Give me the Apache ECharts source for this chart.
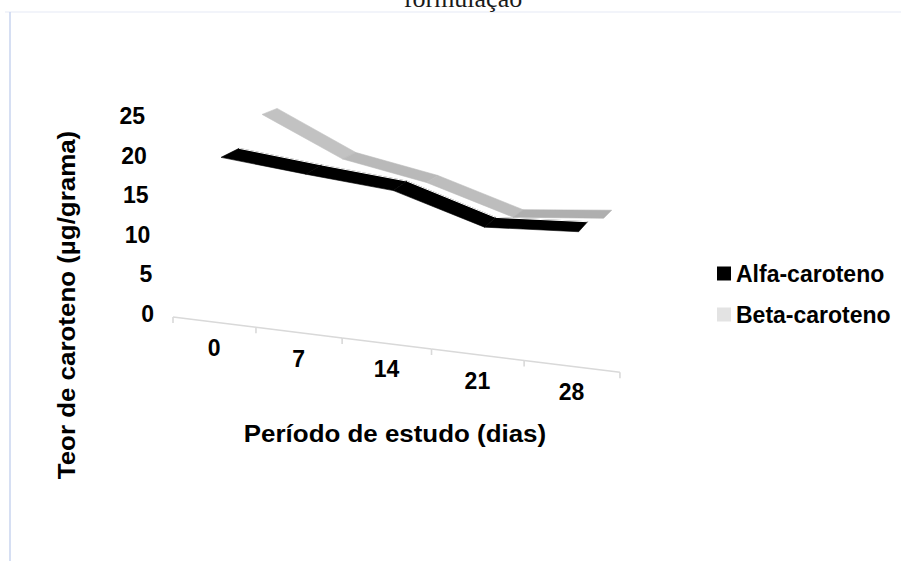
<!DOCTYPE html>
<html>
<head>
<meta charset="utf-8">
<script src="https://cdn.jsdelivr.net/npm/echarts@6/dist/echarts.min.js"></script>
<style>
  html, body { margin: 0; padding: 0; background: #ffffff; }
  #chart { width: 901px; height: 561px; }
</style>
</head>
<body>
<div id="chart"></div>
<script>
// Study period (days) and carotene content (µg/grama)
const days = ['0', '7', '14', '21', '28'];
const alfaCaroteno = [19.9, 18.4, 17.1, 13.7, 14.0];
const betaCaroteno = [24.2, 18.7, 16.2, 12.6, 13.1];
const yTicks = [0, 5, 10, 15, 20, 25];

const FONT = '"Liberation Sans", Arial, Helvetica, sans-serif';

// 3-D look: foreshortening of the category axis, slope of the floor,
// growth of the vertical scale toward the near (right) side.
const WARP_A = 0.91;
const WARP_B = 0.01797;
const FLOOR_SLOPE = 0.1237;
const FLOOR_DROP = 3;
const HEIGHT_GAIN = 0.0395;

// Depth placement of each ribbon (start/end offsets) and the ribbon's own width vector
const depthAlfa = { dx: [7, 7], dy: [-4, -4], scale: 1.0, rib: [[18, -9], [9, -10]] };
const depthBeta = { dx: [48, 32], dy: [-22, -32], scale: 0.95, rib: [[15, -6], [8, -8]] };

function lerp(a, b, t) { return a + (b - a) * t; }

function frameOf(api) {
  const c = api.coord([0, 0]);
  const bw = api.size([1, 0])[0];
  return { x0: c[0] - bw / 2, y0: c[1], bw: bw };
}

// point on the front floor edge, u measured in category widths from the axis start
function floorAt(f, u) {
  const x = f.x0 + f.bw * (WARP_A * u + WARP_B * u * u);
  return [x, f.y0 + FLOOR_DROP + FLOOR_SLOPE * (x - f.x0)];
}

function ribbonPoint(api, f, i, v, d) {
  const p = api.coord([i, v]);
  const u = (p[0] - f.x0) / f.bw;
  const h = f.y0 - p[1];
  const t = Math.min(1, Math.max(0, (u - 0.5) / (days.length - 1)));
  const base = floorAt(f, u);
  const x = base[0] + lerp(d.dx[0], d.dx[1], t);
  const y = base[1] + lerp(d.dy[0], d.dy[1], t) - h * (1 + HEIGHT_GAIN * u) * d.scale;
  const r = [lerp(d.rib[0][0], d.rib[1][0], t), lerp(d.rib[0][1], d.rib[1][1], t)];
  return { front: [x, y], back: [x + r[0], y + r[1]] };
}

function segments(values) {
  return values.slice(0, -1).map(function (v, i) { return [i, v, values[i + 1]]; });
}

function ribbonSeries(name, values, depth, shade, edgeLine, z) {
  return {
    type: 'custom',
    name: name,
    coordinateSystem: 'cartesian2d',
    data: segments(values),
    encode: { x: 0, y: [1, 2] },
    z: z,
    silent: true,
    renderItem: function (params, api) {
      const f = frameOf(api);
      const i = api.value(0);
      const a = ribbonPoint(api, f, i, api.value(1), depth);
      const b = ribbonPoint(api, f, i + 1, api.value(2), depth);
      const slope = (b.front[1] - a.front[1]) / (b.front[0] - a.front[0]);
      const fill = shade(slope);
      const children = [{
        type: 'polygon',
        shape: { points: [a.front, b.front, b.back, a.back] },
        style: { fill: fill, stroke: fill, lineWidth: 0.6 }
      }];
      if (edgeLine) {
        children.push({
          type: 'line',
          shape: { x1: a.back[0], y1: a.back[1], x2: b.back[0], y2: b.back[1] },
          style: { stroke: '#ffffff', lineWidth: 1 }
        });
      }
      return { type: 'group', children: children };
    }
  };
}

function greyShade(slope) {
  const l = Math.round(Math.min(205, 175 + Math.abs(slope) * 34));
  return 'rgb(' + l + ',' + l + ',' + l + ')';
}
function blackShade() { return '#000000'; }

// slanted category axis with its ticks and labels
const axisSeries = {
  type: 'custom',
  coordinateSystem: 'cartesian2d',
  data: days.map(function (d, i) { return [i, 0]; }),
  encode: { x: 0, y: 1 },
  z: 1,
  silent: true,
  renderItem: function (params, api) {
    const f = frameOf(api);
    const i = api.value(0);
    const p = api.coord([i, 0]);
    const uc = (p[0] - f.x0) / f.bw;
    const L = floorAt(f, uc - 0.5);
    const R = floorAt(f, uc + 0.5);
    const C = floorAt(f, uc);
    const axisStyle = { stroke: '#d9d9d9', lineWidth: 1.6 };
    const children = [
      { type: 'line', shape: { x1: L[0], y1: L[1], x2: R[0], y2: R[1] }, style: axisStyle },
      { type: 'line', shape: { x1: L[0], y1: L[1], x2: L[0], y2: L[1] + 6 }, style: axisStyle },
      {
        type: 'text', x: C[0], y: C[1] + 26,
        style: {
          text: days[i], align: 'center', verticalAlign: 'middle',
          fontSize: 23, fontWeight: 'bold', fontFamily: FONT, fill: '#000000'
        }
      }
    ];
    if (i === days.length - 1) {
      children.push({ type: 'line', shape: { x1: R[0], y1: R[1], x2: R[0], y2: R[1] + 6 }, style: axisStyle });
    }
    return { type: 'group', children: children };
  }
};

const yRich = {};
yTicks.forEach(function (v) {
  yRich['t' + v] = {
    fontSize: 23, fontWeight: 'bold', fontFamily: FONT, color: '#000000',
    padding: [0, v * 0.36, 0, 0]
  };
});

const chart = echarts.init(document.getElementById('chart'), null, { renderer: 'svg' });

chart.setOption({
  animation: false,
  backgroundColor: '#ffffff',
  grid: { left: 173, right: 281, top: 116, bottom: 247 },
  xAxis: { type: 'category', data: days, show: false },
  yAxis: {
    type: 'value', min: 0, max: 25, interval: 5,
    axisLine: { show: false }, axisTick: { show: false }, splitLine: { show: false },
    axisLabel: {
      margin: 19,
      formatter: function (v) { return '{t' + v + '|' + v + '}'; },
      rich: yRich
    }
  },
  legend: {
    orient: 'vertical',
    left: 712, top: 257,
    icon: 'rect',
    itemWidth: 14, itemHeight: 14, itemGap: 18,
    textStyle: { fontSize: 23, fontWeight: 'bold', fontFamily: FONT, color: '#000000' },
    data: [
      { name: 'Alfa-caroteno', itemStyle: { color: '#000000' } },
      { name: 'Beta-caroteno', itemStyle: { color: '#e3e3e3' } }
    ]
  },
  graphic: [
    { type: 'line', shape: { x1: 5, y1: 12, x2: 901, y2: 12 }, style: { stroke: '#eef0f8', lineWidth: 1.5 }, silent: true },
    { type: 'line', shape: { x1: 10, y1: 12, x2: 10, y2: 561 }, style: { stroke: '#c8d5ef', lineWidth: 1.5 }, silent: true },
    {
      type: 'text', x: 463, y: 11,
      style: { text: 'formulação', align: 'center', verticalAlign: 'bottom', fontSize: 26, fontFamily: '"Liberation Serif", "Times New Roman", serif', fill: '#1a1a1a' }
    },
    {
      type: 'text', x: 395, y: 433, scaleX: 1.08,
      style: { text: 'Período de estudo (dias)', align: 'center', verticalAlign: 'middle', fontSize: 24, fontWeight: 'bold', fontFamily: FONT, fill: '#000000' }
    },
    {
      type: 'text', x: 66, y: 305, rotation: Math.PI / 2, scaleX: 1.08,
      style: { text: 'Teor de caroteno (µg/grama)', align: 'center', verticalAlign: 'middle', fontSize: 24, fontWeight: 'bold', fontFamily: FONT, fill: '#000000' }
    }
  ],
  series: [
    axisSeries,
    ribbonSeries('Beta-caroteno', betaCaroteno, depthBeta, greyShade, false, 2),
    ribbonSeries('Alfa-caroteno', alfaCaroteno, depthAlfa, blackShade, true, 3)
  ]
});
</script>
</body>
</html>
